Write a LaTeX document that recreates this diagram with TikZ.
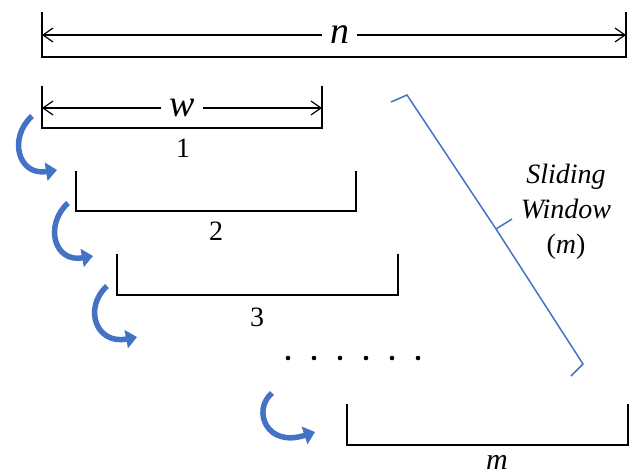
\documentclass[tikz,border=0pt]{standalone}
\usepackage{fontspec}
\setmainfont{Liberation Serif}
\usetikzlibrary{arrows.meta, positioning}
\definecolor{arrblue}{RGB}{68,114,196}

\begin{document}
\begin{tikzpicture}[x=1pt, y=-1pt,
    brk/.style={line width=1.5pt, line cap=rect},
    dim/.style={line width=1.2pt, {Straight Barb[length=10pt,width=14pt]}-{Straight Barb[length=10pt,width=14pt]}},
    biglbl/.style={fill=white, inner sep=8pt, font=\fontsize{38}{40}\selectfont\itshape},
    num/.style={inner sep=0pt, font=\fontsize{28}{30}\selectfont},
    curv/.style={line width=5.5pt, arrblue, -{Triangle[length=11pt,width=18pt]}},
    brace/.style={line width=1.5pt, arrblue, line join=miter}
  ]
    \useasboundingbox (0,0) rectangle (632,475);

    %% Total length n
    \coordinate (nL) at (42,35);
    \coordinate (nR) at (626,35);
    \draw[brk] (42,13) -- (42,57) -- (626,57) -- (626,13);
    \draw[dim] (nL) -- (nR) node[biglbl, pos=0.51] (nlbl) {n};

    %% Window width w
    \coordinate (wL) at (42,108);
    \coordinate (wR) at (322,108);
    \draw[brk] (42,87) -- (42,128) -- (322,128) -- (322,87);
    \draw[dim] (wL) -- (wR) node[biglbl, midway] (wlbl) {w};
    \node[num] (lbl1) at (183,148) {1};

    %% Window 2
    \draw[brk] (76,172) -- (76,211) -- (356,211) -- (356,172);
    \node[num] (lbl2) at (216,231) {2};

    %% Window 3
    \draw[brk] (117,255) -- (117,295) -- (398,295) -- (398,255);
    \node[num] (lbl3) at (257,317) {3};

    %% Dots
    \foreach \x in {288,314,340,366,392,418}
      \fill (\x,358) circle (2.3pt);

    %% Last window m
    \draw[brk] (347,405) -- (347,445) -- (628,445) -- (628,405);
    \node[num, font=\fontsize{30}{30}\selectfont\itshape] (lblm) at (497,462) {m};

    %% Sliding arrows
    \draw[curv] (32,116) .. controls (8,138) and (18,176) .. (57,170);
    \draw[curv] (68,203) .. controls (44,225) and (54,263) .. (93,256);
    \draw[curv] (107,286) .. controls (83,308) and (96,345) .. (137,337);
    \draw[curv] (272,393) .. controls (252,410) and (266,448) .. (315,432);

    %% Brace and label
    \draw[brace] (391,102) -- (407,95) -- (496,229) -- (512,219)
                 (496,229) -- (583,364) -- (571,376);
    \node[align=center, font=\fontsize{28}{35}\selectfont] (slide) at (566,212)
      {\textit{Sliding}\\\textit{Window}\\(\textit{m})};
  \end{tikzpicture}
\end{document}
